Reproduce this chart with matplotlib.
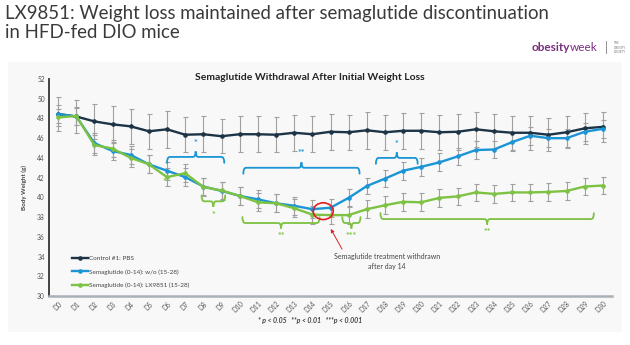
import matplotlib
matplotlib.use("Agg")
from matplotlib import pyplot as plt
from matplotlib.patches import Rectangle, Ellipse
from matplotlib.path import Path
from matplotlib.patches import PathPatch
import numpy as np

plt.rcParams['font.family'] = ['Lato', 'DejaVu Sans']

# ---- data ----
days = ["D%d" % d for d in range(31)]

control = [48.45, 48.2, 47.7, 47.4, 47.2, 46.7, 46.9, 46.35, 46.4, 46.2,
           46.4, 46.4, 46.35, 46.55, 46.4, 46.65, 46.6, 46.8, 46.6, 46.75,
           46.75, 46.6, 46.65, 46.9, 46.7, 46.55, 46.55, 46.35, 46.6, 47.0, 47.15]
control_err = [1.7, 1.7, 1.75, 1.9, 1.8, 1.8, 1.9, 1.8, 1.8, 1.7,
               1.8, 1.8, 1.8, 1.8, 1.8, 1.8, 1.8, 1.9, 1.8, 1.8,
               1.8, 1.8, 1.8, 1.8, 1.8, 1.7, 1.7, 1.7, 1.6, 1.6, 1.5]

sema_wo = [48.45, 48.2, 45.5, 44.7, 44.3, 43.35, 42.7, 42.05, 41.1, 40.65,
           40.15, 39.8, 39.4, 39.15, 38.8, 38.95, 39.95, 41.15, 41.9, 42.7,
           43.1, 43.55, 44.15, 44.8, 44.85, 45.6, 46.25, 46.0, 46.0, 46.65, 46.95]
sema_wo_err = [0.9, 0.9, 1.0, 0.9, 0.9, 0.9, 0.9, 0.9, 0.9, 0.9,
               0.9, 0.9, 0.9, 0.9, 0.9, 0.9, 0.9, 0.85, 0.85, 0.9,
               0.9, 0.9, 0.9, 0.9, 0.9, 0.9, 0.9, 0.9, 0.9, 0.9, 0.9]

sema_lx = [48.1, 48.25, 45.3, 44.95, 44.0, 43.35, 42.05, 42.45, 41.05, 40.7,
           40.15, 39.5, 39.4, 38.9, 38.25, 38.2, 38.2, 38.8, 39.2, 39.55,
           39.5, 39.95, 40.1, 40.5, 40.35, 40.5, 40.5, 40.55, 40.65, 41.1, 41.2]
sema_lx_err = [0.9, 0.9, 1.0, 0.9, 0.9, 0.9, 0.9, 0.9, 0.9, 0.9,
               0.9, 0.9, 0.9, 0.9, 0.9, 0.9, 0.9, 0.9, 0.9, 0.9,
               0.9, 0.9, 0.9, 0.9, 0.9, 0.9, 0.9, 0.9, 0.9, 0.9, 0.9]

labels = ["Control #1: PBS", "Semaglutide (0-14): w/o (15-28)",
          "Semaglutide (0-14): LX9851 (15-28)"]
colors = ["#1d3447", "#1b95d5", "#7dc242"]

yticks = list(range(30, 53, 2))

# significance braces: (x start, x end, y, color, text, points up?)
braces = [
    (6.0, 9.15, 43.5, "#1b95d5", "*", True),
    (10.2, 16.6, 42.4, "#1b95d5", "**", True),
    (17.5, 19.8, 43.4, "#1b95d5", "*", True),
    (7.9, 9.2, 40.2, "#7dc242", "*", False),
    (10.15, 14.4, 38.0, "#7dc242", "**", False),
    (15.65, 16.65, 38.0, "#7dc242", "***", False),
    (17.75, 29.5, 38.4, "#7dc242", "**", False),
]


def draw_brace(ax, x0, x1, y, color, text, up):
    # curly brace made of quadratic curves, tip in the middle
    s = 1 if up else -1
    h = 0.6 * s    # from the ends to the bar
    t = 0.55 * s   # from the bar to the tip
    r = 0.15       # x size of the rounded corners
    xm = (x0 + x1) / 2
    verts = [(x0, y), (x0, y + h), (x0 + r, y + h),
             (xm - r, y + h), (xm, y + h), (xm, y + h + t),
             (xm, y + h), (xm + r, y + h),
             (x1 - r, y + h), (x1, y + h), (x1, y)]
    codes = [Path.MOVETO, Path.CURVE3, Path.CURVE3,
             Path.LINETO, Path.CURVE3, Path.CURVE3,
             Path.CURVE3, Path.CURVE3,
             Path.LINETO, Path.CURVE3, Path.CURVE3]
    ax.add_patch(PathPatch(Path(verts, codes), fill=False, edgecolor=color, lw=1.3,
                           capstyle='round', zorder=5))
    ty = y + h + t + 0.4 * s
    ax.text(xm, ty, text, color=color, fontsize=6.5, fontweight='bold', ha='center',
            va='bottom' if up else 'top', zorder=6)


fig = plt.figure(figsize=(6.3, 3.45), dpi=100)
fig.patch.set_facecolor("white")

# light grey panel behind the chart
fig.patches.append(Rectangle((8 / 630, 1 - 332 / 345), 614 / 630, 270 / 345,
                             transform=fig.transFigure, facecolor="#f8f8f8",
                             edgecolor="none", zorder=-10))

fig.text(0.008, 0.985, "LX9851: Weight loss maintained after semaglutide discontinuation\nin HFD-fed DIO mice",
         fontsize=13.4, color="#3a3a3a", ha='left', va='top', linespacing=1.1)

# logo as text
fig.text(0.905, 0.862, "obesity", fontsize=8.5, color="#7a2e7e", ha='right', va='center', fontweight='bold')
fig.text(0.905, 0.862, "week", fontsize=8.5, color="#7a2e7e", ha='left', va='center')
fig.text(0.963, 0.862, "|", fontsize=9, color="#888888", ha='center', va='center')
fig.text(0.975, 0.862, "THE\nOBESITY\nSOCIETY", fontsize=2.2, color="#777777", ha='left', va='center')

ax = fig.add_axes([49 / 630, 1 - 296 / 345, 563 / 630, 217 / 345])
ax.set_facecolor("none")

x = np.arange(len(days))
series = [(control, control_err), (sema_wo, sema_wo_err), (sema_lx, sema_lx_err)]
for (vals, errs), lab, col in zip(series, labels, colors):
    ax.errorbar(x, vals, yerr=errs, fmt='none', ecolor="#a0a0a0", elinewidth=0.8,
                capsize=1.8, capthick=0.8, zorder=2)
for (vals, errs), lab, col in zip(series, labels, colors):
    ax.plot(x, vals, color=col, lw=1.7, marker='o', markersize=2.3, label=lab, zorder=3)

ax.set_xlim(-0.5, 30.5)
ax.set_ylim(30, 52)
ax.set_yticks(yticks)
ax.set_xticks(x)
ax.set_xticklabels(days, rotation=45, ha='right', va='top', rotation_mode='anchor')
ax.tick_params(axis='both', length=0, labelsize=4.8, labelcolor="#555555")
ax.tick_params(axis='x', pad=3)
ax.tick_params(axis='y', pad=3)

for side in ['top', 'right']:
    ax.spines[side].set_visible(False)
ax.spines['left'].set_color("#333333")
ax.spines['left'].set_linewidth(1.3)
ax.spines['bottom'].set_color("#a8b0b8")
ax.spines['bottom'].set_linewidth(1.8)

ax.set_ylabel("Body Weight (g)", fontsize=4.5, fontweight='bold', color="#444444", labelpad=7)

fig.text(310 / 630, 1 - 77 / 345, "Semaglutide Withdrawal After Initial Weight Loss",
         fontsize=7.5, fontweight='bold', color="#222222", ha='center', va='center')

for b in braces:
    draw_brace(ax, *b)

# extra green star under D6
ax.text(5.87, 41.5, "*", color="#7dc242", fontsize=6.5, fontweight='bold', ha='center', va='center')

# red circle and arrow marking the end of semaglutide treatment
ax.add_patch(Ellipse((14.6, 38.6), 1.1, 1.7, fill=False, edgecolor="#e02020", lw=1.2, zorder=6))
ax.annotate("", xy=(14.94, 37.05), xytext=(15.71, 34.5),
            arrowprops=dict(arrowstyle='-|>', color="#e02020", lw=0.7, mutation_scale=5), zorder=6)
ax.text(18.1, 33.5, "Semaglutide treatment withdrawn\nafter day 14", fontsize=5, color="#444444",
        ha='center', va='center', linespacing=1.4)

leg = ax.legend(loc='lower left', bbox_to_anchor=(0.03, 0.01), frameon=False, fontsize=4.6,
                handlelength=2.6, handletextpad=0.1, labelspacing=1.25)
for t in leg.get_texts():
    t.set_color("#444444")

fig.text(310 / 630, 1 - 321 / 345, "* p < 0.05   **p < 0.01   ***p < 0.001", fontsize=5,
         fontweight='bold', fontstyle='italic', color="#444444", ha='center', va='center')

fig.savefig("out.png", dpi=100)
